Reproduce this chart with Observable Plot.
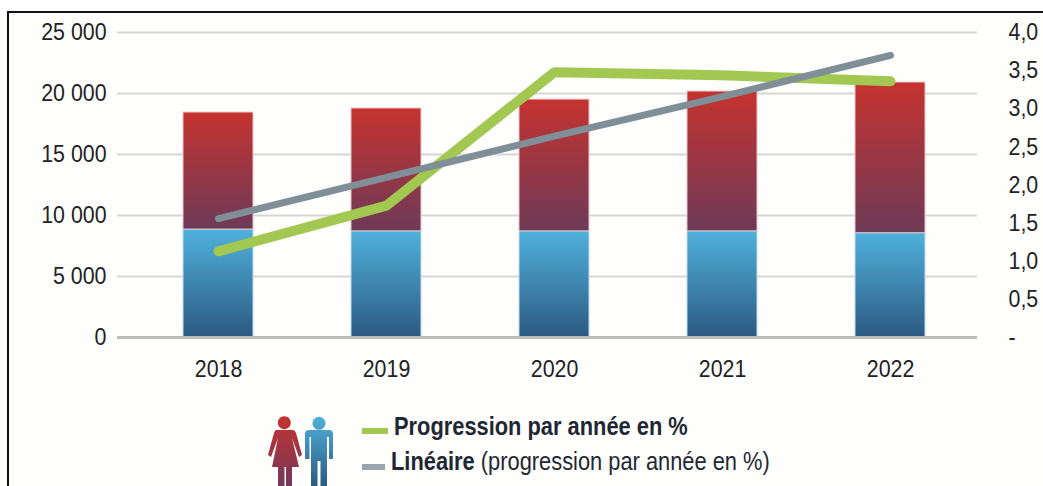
<!DOCTYPE html>
<html lang="fr">
<head>
<meta charset="utf-8">
<script src="https://cdn.jsdelivr.net/npm/d3@7"></script>
<script src="https://cdn.jsdelivr.net/npm/@observablehq/plot@0.6"></script>
<style>
  html, body { margin: 0; padding: 0; background: #fff; overflow: hidden; width: 1043px; height: 486px; }
  #page { position: relative; width: 1043px; height: 486px; overflow: hidden; font-family: "Liberation Sans", sans-serif; color: #1f2733; }
  #frame { position: absolute; left: 7px; top: 11px; width: 1100px; height: 520px; border: 2px solid #111; box-sizing: border-box; background: #fefefd; }
  #chart { position: absolute; left: 0; top: 0; }
  #chart svg { background: transparent; display: block; }
  #legend { position: absolute; left: 0; top: 400px; width: 1043px; height: 86px; }
  #legend .row { position: absolute; white-space: nowrap; font-size: 26px; line-height: 30px; transform: scaleX(0.84); transform-origin: left center; }
  #legend .swatch { position: absolute; height: 6px; }
  #legend b { font-weight: 700; }
  #legend svg { position: absolute; left: 260px; top: 10px; }
</style>
</head>
<body>
<div id="page">
  <div id="frame"></div>
  <div id="chart"></div>
  <div id="legend">
    <svg width="85" height="76" viewBox="0 0 85 76">
      <defs>
        <linearGradient id="iconRed" x1="0" y1="0" x2="0" y2="1"><stop offset="0" stop-color="#c5332f"/><stop offset="1" stop-color="#74395a"/></linearGradient>
        <linearGradient id="iconBlue" x1="0" y1="0" x2="0" y2="1"><stop offset="0" stop-color="#4fb0da"/><stop offset="1" stop-color="#2c5a82"/></linearGradient>
      </defs>
      <path fill="url(#iconRed)" d="M24.3 6.2a6.5 6.5 0 1 1-.01 0zM16 20H33Q35 20 36 23L42 45 39 47 32 28 39 57H32V76H26V57H24.5V76H18V57H12L18 28 11 47 8 45 14 23Q15 20 16 20Z"/>
      <path fill="url(#iconBlue)" d="M59 6.8a6.5 6.5 0 1 1-.01 0zM49 20H69Q73 20 73 24V49H69V27H67V76H60.5V51H57.5V76H51V27H49.5V49H45V24Q45 20 49 20Z"/>
    </svg>
    <div class="swatch" style="left:362px;top:28px;width:26px;background:#a2c851"></div>
    <div class="row" style="left:394px;top:11px"><b>Progression par année en %</b></div>
    <div class="swatch" style="left:362px;top:64px;width:23px;background:#9aa6ad"></div>
    <div class="row" style="left:391px;top:46px"><b>Linéaire</b> (progression par année en %)</div>
  </div>
</div>
<script>
const years = ["2018", "2019", "2020", "2021", "2022"];
const hommes = [8850, 8700, 8700, 8700, 8550];
const femmes = [9590, 10070, 10800, 11460, 12350];
const progression = [1.13, 1.73, 3.48, 3.44, 3.36];
const lineaire = [1.56, 2.1, 2.64, 3.16, 3.7];
const leftTicks = [0, 5000, 10000, 15000, 20000, 25000];
const rightTicks = [0, 0.5, 1, 1.5, 2, 2.5, 3, 3.5, 4];
const ratio = 25000 / 4;

const rows = years.map((year, i) => ({
  year,
  hommes: hommes[i],
  total: hommes[i] + femmes[i],
  progression: progression[i] * ratio,
  lineaire: lineaire[i] * ratio
}));

const fmtLeft = d => d === 0 ? "0" : d3.format(",")(d).replace(",", " ");
const fmtRight = d => d === 0 ? "-" : (d / ratio).toFixed(1).replace(".", ",");
const font = {fontSize: 24, tickSize: 0};

const chart = Plot.plot({
  width: 1043,
  height: 395,
  marginTop: 32,
  marginBottom: 58,
  marginLeft: 117,
  marginRight: 66,
  style: {fontFamily: '"Liberation Sans", sans-serif', color: "#222", background: "transparent"},
  x: {type: "band", domain: years, range: [132, 976], paddingInner: 0.585, paddingOuter: 0.2925, label: null},
  y: {domain: [0, 25000], label: null},
  marks: [
    Plot.ruleY(leftTicks.slice(1), {stroke: "#d6d6d4", strokeWidth: 2}),
    Plot.barY(rows, {x: "year", y1: 0, y2: "hommes", fill: "url(#barBlue)", stroke: "#c3dbe8", strokeWidth: 1}),
    Plot.barY(rows, {x: "year", y1: "hommes", y2: "total", fill: "url(#barRed)", stroke: "#e8c6c6", strokeWidth: 1}),
    Plot.ruleY([0], {stroke: "#bdbdbb", strokeWidth: 3}),
    Plot.lineY(rows, {x: "year", y: "progression", stroke: "#a2c851", strokeWidth: 10, strokeLinecap: "round", strokeLinejoin: "miter"}),
    Plot.lineY(rows, {x: "year", y: "lineaire", stroke: "#7f8e97", strokeWidth: 7, strokeLinecap: "round"}),
    Plot.axisY({anchor: "left", ticks: leftTicks, tickFormat: fmtLeft, tickPadding: 11, label: null, ...font}),
    Plot.axisY({anchor: "right", ticks: rightTicks.map(d => d * ratio), tickFormat: fmtRight, tickPadding: 31, label: null, ...font}),
    Plot.axisX({tickPadding: 22, label: null, ...font})
  ]
});

const defs = d3.select(chart).insert("defs", ":first-child");
[["barRed", "#c5332f", "#6d3a58"], ["barBlue", "#4fb1dc", "#2c5a82"]].forEach(([id, top, bottom]) => {
  const g = defs.append("linearGradient").attr("id", id).attr("x1", 0).attr("y1", 0).attr("x2", 0).attr("y2", 1);
  g.append("stop").attr("offset", 0).attr("stop-color", top);
  g.append("stop").attr("offset", 1).attr("stop-color", bottom);
});
document.getElementById("chart").appendChild(chart);

// The reference uses a condensed grotesque: narrow the axis labels to its set width.
chart.querySelectorAll("text").forEach(t => {
  const len = t.getComputedTextLength();
  t.setAttribute("textLength", (len * 0.89).toFixed(1));
  t.setAttribute("lengthAdjust", "spacingAndGlyphs");
});
</script>
</body>
</html>
